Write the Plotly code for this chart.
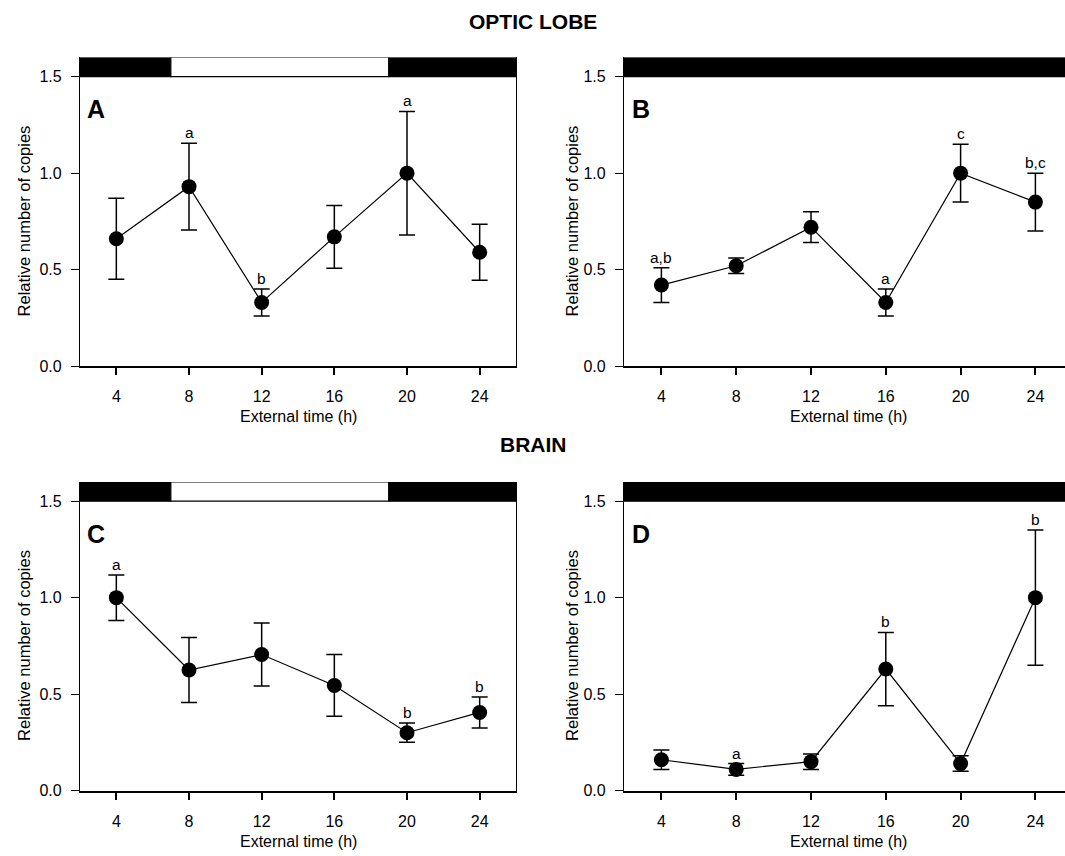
import plotly.graph_objects as go

W, H = 1065, 856

hours = [4, 8, 12, 16, 20, 24]

# Optic lobe, light/dark (A)
a_mean = [0.66, 0.93, 0.33, 0.67, 1.00, 0.59]
a_err = [0.21, 0.225, 0.07, 0.163, 0.32, 0.145]
a_sig = ["", "a", "b", "", "a", ""]

# Optic lobe, constant dark (B)
b_mean = [0.42, 0.52, 0.72, 0.33, 1.00, 0.85]
b_err = [0.09, 0.04, 0.08, 0.07, 0.15, 0.15]
b_sig = ["a,b", "", "", "a", "c", "b,c"]

# Brain, light/dark (C)
c_mean = [1.00, 0.625, 0.705, 0.545, 0.30, 0.405]
c_err = [0.118, 0.168, 0.163, 0.16, 0.05, 0.08]
c_sig = ["a", "", "", "", "b", "b"]

# Brain, constant dark (D)
d_mean = [0.16, 0.11, 0.15, 0.63, 0.14, 1.00]
d_err = [0.05, 0.03, 0.04, 0.19, 0.04, 0.35]
d_sig = ["", "a", "", "b", "", "b"]

panel_letters = ["A", "B", "C", "D"]
light_start, light_end = 7, 19

FONT = "Arial, Liberation Sans, sans-serif"


def px(p):
    return p / W


def py(p):
    return 1 - p / H


# pixel geometry
left_x = (80, 516)
right_x = (624, 1065)
top_y = (58, 370)     # top of bar (y=1.6) to y=0
bot_y = (487, 799)
px_per_h_right = 18.7

panels = [
    dict(mean=a_mean, err=a_err, sig=a_sig, xd=left_x, yd=top_y, ld=True, xr=[2, 26]),
    dict(mean=b_mean, err=b_err, sig=b_sig, xd=right_x, yd=top_y, ld=False,
         xr=[2, 2 + (right_x[1] - right_x[0]) / px_per_h_right]),
    dict(mean=c_mean, err=c_err, sig=c_sig, xd=left_x, yd=bot_y, ld=True, xr=[2, 26]),
    dict(mean=d_mean, err=d_err, sig=d_sig, xd=right_x, yd=bot_y, ld=False,
         xr=[2, 2 + (right_x[1] - right_x[0]) / px_per_h_right]),
]

fig = go.Figure()
shapes = []
annotations = []

for i, p in enumerate(panels):
    n = "" if i == 0 else str(i + 1)
    xa, ya = "x" + n, "y" + n
    fig.add_trace(go.Scatter(
        x=hours, y=p["mean"], xaxis=xa, yaxis=ya, mode="lines+markers",
        line=dict(color="black", width=1.2),
        marker=dict(color="black", size=15),
        error_y=dict(type="data", array=p["err"], color="black", thickness=1.5, width=8),
        showlegend=False, cliponaxis=False,
    ))
    xdom = [px(p["xd"][0]), min(1.0, px(p["xd"][1]))]
    ydom = [py(p["yd"][1]), py(p["yd"][0])]
    fig.layout["xaxis" + n] = dict(
        domain=xdom, range=p["xr"], anchor=ya, tickvals=hours,
        ticks="outside", ticklen=7, tickwidth=1.5, tickcolor="black",
        showline=True, linewidth=2, linecolor="black", showgrid=False, zeroline=False,
        tickfont=dict(family=FONT, size=16, color="black"), ticklabelstandoff=8,
    )
    fig.layout["yaxis" + n] = dict(
        domain=ydom, range=[0, 1.6], anchor=xa, tickvals=[0, 0.5, 1.0, 1.5],
        ticktext=["0.0", "0.5", "1.0", "1.5"],
        ticks="outside", ticklen=8, tickwidth=1.2, tickcolor="black",
        showline=True, linewidth=1.2, linecolor="black", mirror=p["ld"],
        showgrid=False, zeroline=False,
        tickfont=dict(family=FONT, size=16, color="black"), ticklabelstandoff=6,
    )
    x0, x1 = p["xr"]
    # light/dark bar
    if p["ld"]:
        segs = [(x0, light_start, "black"), (light_start, light_end, "white"), (light_end, x1, "black")]
    else:
        segs = [(x0, x1, "black")]
    for s0, s1, col in segs:
        shapes.append(dict(type="rect", xref=xa, yref=ya, x0=s0, x1=s1, y0=1.5, y1=1.6,
                           fillcolor=col, line=dict(color="black", width=1.2), layer="above"))
    # panel letter
    annotations.append(dict(text="<b>%s</b>" % panel_letters[i], xref=xa, yref=ya,
                            x=x0 + 0.3, y=1.33, xanchor="left", yanchor="middle",
                            showarrow=False, font=dict(family=FONT, size=25, color="black")))
    # significance letters
    for h, m, e, s in zip(hours, p["mean"], p["err"], p["sig"]):
        if s:
            annotations.append(dict(text=s, xref=xa, yref=ya, x=h, y=m + e,
                                    xanchor="center", yanchor="bottom", yshift=0,
                                    showarrow=False, font=dict(family=FONT, size=15.5, color="black")))
    # axis titles
    ytx = p["xd"][0] - 56 + (4 if not p["ld"] else 0)
    annotations.append(dict(text="Relative number of copies", xref="paper", yref=ya,
                            x=px(ytx), y=0.75, textangle=-90, xanchor="center", yanchor="middle",
                            showarrow=False, font=dict(family=FONT, size=16.5, color="black")))
    annotations.append(dict(text="External time (h)", xref=xa, yref="paper",
                            x=14, y=py(p["yd"][1] + 51), xanchor="center", yanchor="middle",
                            showarrow=False, font=dict(family=FONT, size=16, color="black")))

# section titles
annotations.append(dict(text="<b>OPTIC LOBE</b>", xref="paper", yref="paper",
                        x=px(533), y=py(22), xanchor="center", yanchor="middle",
                        showarrow=False, font=dict(family=FONT, size=21, color="black")))
annotations.append(dict(text="<b>BRAIN</b>", xref="paper", yref="paper",
                        x=px(533), y=py(449), xanchor="center", yanchor="middle",
                        showarrow=False, font=dict(family=FONT, size=21, color="black")))

fig.update_layout(
    width=W, height=H, margin=dict(l=0, r=0, t=0, b=0),
    paper_bgcolor="white", plot_bgcolor="white",
    shapes=shapes, annotations=annotations, showlegend=False,
)

fig.write_html("out.html", config={"displayModeBar": False},
               post_script="document.body.style.margin='0';document.body.style.overflow='hidden';")
